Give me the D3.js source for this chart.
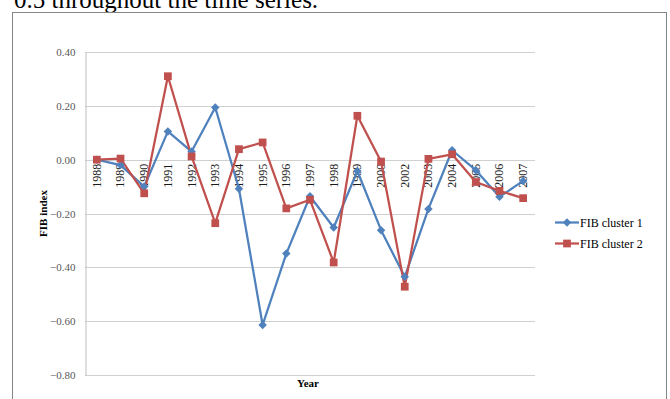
<!DOCTYPE html>
<html><head><meta charset="utf-8">
<script src="https://cdn.jsdelivr.net/npm/d3@7"></script>
<style>
html,body{margin:0;padding:0;background:#fff;}
svg{display:block;font-family:"Liberation Serif","Times New Roman",serif;}
</style></head>
<body>
<svg id="chart" width="670" height="399"></svg>
<script>
const years = ["1988","1989","1990","1991","1992","1993","1994","1995","1996","1997","1998","1999","2000","2002","2003","2004","2005","2006","2007"];
const cluster1 = [0.00,-0.02,-0.10,0.105,0.03,0.194,-0.108,-0.614,-0.349,-0.136,-0.252,-0.042,-0.262,-0.435,-0.183,0.035,-0.039,-0.138,-0.079];
const cluster2 = [0.00,0.004,-0.125,0.31,0.012,-0.236,0.039,0.064,-0.181,-0.149,-0.382,0.163,-0.007,-0.472,0.003,0.02,-0.083,-0.116,-0.143];
const yTicks = [0.40,0.20,0.00,-0.20,-0.40,-0.60,-0.80];
const seriesNames = ["FIB cluster 1","FIB cluster 2"];
const colors = ["#4F81BD","#C0504D"];

const svg = d3.select("#chart");
svg.append("rect").attr("width",670).attr("height",399).attr("fill","#fff");

// document text above chart (cut by the top edge, as in the reference)
svg.append("text").attr("x",14).attr("y",8).attr("font-size",25).attr("fill","#000")
  .text("0.5 throughout the time series.");

// chart border
svg.append("rect").attr("x",12.5).attr("y",12.5).attr("width",654).attr("height",400)
  .attr("fill","none").attr("stroke","#868686").attr("stroke-width",1);

const L=85, R=535, T=52, B=375;
const x = d3.scaleBand().domain(years).range([L,R]);
const y = d3.scaleLinear().domain([-0.8,0.4]).range([B,T]);

// gridlines
svg.append("g").selectAll("line").data(yTicks).join("line")
  .attr("x1",L).attr("x2",R).attr("y1",d=>Math.round(y(d))+0.5).attr("y2",d=>Math.round(y(d))+0.5)
  .attr("stroke","#D0D0D0").attr("stroke-width",1);

// y axis
const yAxis = d3.axisLeft(y).tickValues(yTicks).tickFormat(d3.format(".2f")).tickSize(0).tickPadding(10);
const gy = svg.append("g").attr("transform",`translate(${L+0.5},0)`).call(yAxis);
gy.select(".domain").attr("stroke","#BFBFBF");
gy.selectAll("text").attr("font-family","Liberation Serif").attr("font-size",11).attr("fill","#595959");

// x axis labels at zero line
const xAxis = d3.axisBottom(x).tickSize(0).tickPadding(0);
const gx = svg.append("g").attr("transform",`translate(0,${y(0)})`).call(xAxis);
gx.select(".domain").remove();
gx.selectAll("text").attr("font-family","Liberation Serif").attr("font-size",12).attr("fill","#1a1a1a")
  .attr("text-anchor","end").attr("transform","rotate(-90)").attr("x",-4).attr("y",0).attr("dy","0.33em");

// lines
const cx = d => x(d) + x.bandwidth()/2;
const data = [cluster1, cluster2];
const line = d3.line().x((d,i)=>cx(years[i])).y(d=>y(d));
data.forEach((vals,si)=>{
  svg.append("path").datum(vals).attr("d",line).attr("fill","none")
    .attr("stroke",colors[si]).attr("stroke-width",2.25).attr("stroke-linejoin","round");
});
// markers
const diamond = d3.symbol().type(d3.symbolDiamond2).size(46);
const square = d3.symbol().type(d3.symbolSquare).size(60);
svg.append("g").selectAll("path").data(cluster1).join("path")
  .attr("d",diamond).attr("transform",(d,i)=>`translate(${cx(years[i])},${y(d)})`).attr("fill",colors[0]);
svg.append("g").selectAll("path").data(cluster2).join("path")
  .attr("d",square).attr("transform",(d,i)=>`translate(${cx(years[i])},${y(d)})`).attr("fill",colors[1]);

// axis titles
svg.append("text").attr("transform",`translate(47,${(T+B)/2}) rotate(-90)`).attr("text-anchor","middle")
  .attr("font-size",11).attr("font-weight","bold").attr("fill","#000").text("FIB index");
svg.append("text").attr("x",(L+R)/2-2).attr("y",387).attr("text-anchor","middle")
  .attr("font-size",11).attr("font-weight","bold").attr("fill","#000").text("Year");

// legend
const lg = svg.append("g");
seriesNames.forEach((n,i)=>{
  const ly = 222.5 + i*21;
  lg.append("line").attr("x1",555).attr("x2",579).attr("y1",ly).attr("y2",ly)
    .attr("stroke",colors[i]).attr("stroke-width",2.25);
  lg.append("path").attr("d", i===0 ? diamond : square).attr("transform",`translate(567,${ly})`).attr("fill",colors[i]);
  lg.append("text").attr("x",580).attr("y",ly).attr("dy","0.35em").attr("font-size",12).attr("fill","#000").text(n);
});
</script>
</body></html>
